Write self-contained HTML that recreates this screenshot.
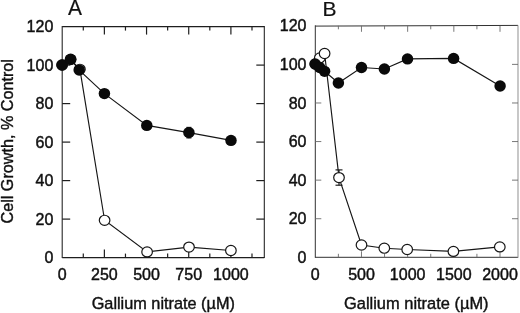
<!DOCTYPE html>
<html><head><meta charset="utf-8"><title>Cell growth vs gallium nitrate</title>
<style>
html,body{margin:0;padding:0;background:#fff;}
body{width:520px;height:313px;overflow:hidden;font-family:"Liberation Sans",sans-serif;}
svg{display:block;will-change:transform;}
text{font-family:"Liberation Sans",sans-serif;fill:#111;}
.t{font-size:16px;stroke:#111;stroke-width:0.45px;}
.lab{font-size:16.3px;stroke:#111;stroke-width:0.4px;}
.big{font-size:21px;stroke:#111;stroke-width:0.2px;}
</style></head><body>
<svg width="520" height="313" viewBox="0 0 520 313">
<rect width="520" height="313" fill="#fff"/>
<line x1="62.2" y1="26.1" x2="62.2" y2="258.1" stroke="#1e1e1e" stroke-width="1.05"/>
<line x1="62.2" y1="257.6" x2="264.3" y2="257.6" stroke="#1e1e1e" stroke-width="1.05"/>
<line x1="62.2" y1="26.6" x2="264.3" y2="26.6" stroke="#1e1e1e" stroke-width="1.05"/>
<line x1="264.3" y1="26.1" x2="264.3" y2="258.1" stroke="#1e1e1e" stroke-width="1.05"/>
<text x="53.3" y="263.2" text-anchor="end" class="t" textLength="8.9" lengthAdjust="spacingAndGlyphs">0</text>
<line x1="62.2" y1="219.1" x2="70.2" y2="219.1" stroke="#1e1e1e" stroke-width="1.2"/>
<line x1="256.3" y1="219.1" x2="264.3" y2="219.1" stroke="#1e1e1e" stroke-width="1.2"/>
<text x="53.3" y="224.7" text-anchor="end" class="t" textLength="17.8" lengthAdjust="spacingAndGlyphs">20</text>
<line x1="62.2" y1="180.6" x2="70.2" y2="180.6" stroke="#1e1e1e" stroke-width="1.2"/>
<line x1="256.3" y1="180.6" x2="264.3" y2="180.6" stroke="#1e1e1e" stroke-width="1.2"/>
<text x="53.3" y="186.2" text-anchor="end" class="t" textLength="17.8" lengthAdjust="spacingAndGlyphs">40</text>
<line x1="62.2" y1="142.1" x2="70.2" y2="142.1" stroke="#1e1e1e" stroke-width="1.2"/>
<line x1="256.3" y1="142.1" x2="264.3" y2="142.1" stroke="#1e1e1e" stroke-width="1.2"/>
<text x="53.3" y="147.7" text-anchor="end" class="t" textLength="17.8" lengthAdjust="spacingAndGlyphs">60</text>
<line x1="62.2" y1="103.6" x2="70.2" y2="103.6" stroke="#1e1e1e" stroke-width="1.2"/>
<line x1="256.3" y1="103.6" x2="264.3" y2="103.6" stroke="#1e1e1e" stroke-width="1.2"/>
<text x="53.3" y="109.2" text-anchor="end" class="t" textLength="17.8" lengthAdjust="spacingAndGlyphs">80</text>
<line x1="62.2" y1="65.1" x2="70.2" y2="65.1" stroke="#1e1e1e" stroke-width="1.2"/>
<line x1="256.3" y1="65.1" x2="264.3" y2="65.1" stroke="#1e1e1e" stroke-width="1.2"/>
<text x="53.3" y="70.7" text-anchor="end" class="t" textLength="26.7" lengthAdjust="spacingAndGlyphs">100</text>
<text x="53.3" y="32.2" text-anchor="end" class="t" textLength="26.7" lengthAdjust="spacingAndGlyphs">120</text>
<line x1="83.29" y1="257.6" x2="83.29" y2="253.6" stroke="#1e1e1e" stroke-width="1.2"/>
<line x1="83.29" y1="26.6" x2="83.29" y2="30.6" stroke="#1e1e1e" stroke-width="1.2"/>
<line x1="104.38" y1="257.6" x2="104.38" y2="249.6" stroke="#1e1e1e" stroke-width="1.2"/>
<line x1="104.38" y1="26.6" x2="104.38" y2="34.6" stroke="#1e1e1e" stroke-width="1.2"/>
<line x1="125.46" y1="257.6" x2="125.46" y2="253.6" stroke="#1e1e1e" stroke-width="1.2"/>
<line x1="125.46" y1="26.6" x2="125.46" y2="30.6" stroke="#1e1e1e" stroke-width="1.2"/>
<line x1="146.55" y1="257.6" x2="146.55" y2="249.6" stroke="#1e1e1e" stroke-width="1.2"/>
<line x1="146.55" y1="26.6" x2="146.55" y2="34.6" stroke="#1e1e1e" stroke-width="1.2"/>
<line x1="167.64" y1="257.6" x2="167.64" y2="253.6" stroke="#1e1e1e" stroke-width="1.2"/>
<line x1="167.64" y1="26.6" x2="167.64" y2="30.6" stroke="#1e1e1e" stroke-width="1.2"/>
<line x1="188.72" y1="257.6" x2="188.72" y2="249.6" stroke="#1e1e1e" stroke-width="1.2"/>
<line x1="188.72" y1="26.6" x2="188.72" y2="34.6" stroke="#1e1e1e" stroke-width="1.2"/>
<line x1="209.81" y1="257.6" x2="209.81" y2="253.6" stroke="#1e1e1e" stroke-width="1.2"/>
<line x1="209.81" y1="26.6" x2="209.81" y2="30.6" stroke="#1e1e1e" stroke-width="1.2"/>
<line x1="230.9" y1="257.6" x2="230.9" y2="249.6" stroke="#1e1e1e" stroke-width="1.2"/>
<line x1="230.9" y1="26.6" x2="230.9" y2="34.6" stroke="#1e1e1e" stroke-width="1.2"/>
<line x1="251.99" y1="257.6" x2="251.99" y2="253.6" stroke="#1e1e1e" stroke-width="1.2"/>
<line x1="251.99" y1="26.6" x2="251.99" y2="30.6" stroke="#1e1e1e" stroke-width="1.2"/>
<text x="62.2" y="280.0" text-anchor="middle" class="t" textLength="8.9" lengthAdjust="spacingAndGlyphs">0</text>
<text x="104.38" y="280.0" text-anchor="middle" class="t" textLength="26.7" lengthAdjust="spacingAndGlyphs">250</text>
<text x="146.55" y="280.0" text-anchor="middle" class="t" textLength="26.7" lengthAdjust="spacingAndGlyphs">500</text>
<text x="188.72" y="280.0" text-anchor="middle" class="t" textLength="26.7" lengthAdjust="spacingAndGlyphs">750</text>
<text x="230.9" y="280.0" text-anchor="middle" class="t" textLength="35.6" lengthAdjust="spacingAndGlyphs">1000</text>
<line x1="315.3" y1="25.3" x2="315.3" y2="257.8" stroke="#262626" stroke-width="0.95"/>
<line x1="315.3" y1="257.3" x2="518" y2="257.3" stroke="#262626" stroke-width="0.95"/>
<line x1="315.3" y1="26.1" x2="518" y2="25.4" stroke="#262626" stroke-width="0.95"/>
<line x1="518" y1="25.3" x2="518" y2="257.8" stroke="#8a8a8a" stroke-width="0.95"/>
<text x="306.5" y="262.9" text-anchor="end" class="t" textLength="8.9" lengthAdjust="spacingAndGlyphs">0</text>
<line x1="315.3" y1="218.72" x2="321.3" y2="218.72" stroke="#6a6a6a" stroke-width="0.9"/>
<line x1="512" y1="218.72" x2="518" y2="218.72" stroke="#6a6a6a" stroke-width="0.9"/>
<text x="306.5" y="224.32" text-anchor="end" class="t" textLength="17.8" lengthAdjust="spacingAndGlyphs">20</text>
<line x1="315.3" y1="180.13" x2="321.3" y2="180.13" stroke="#6a6a6a" stroke-width="0.9"/>
<line x1="512" y1="180.13" x2="518" y2="180.13" stroke="#6a6a6a" stroke-width="0.9"/>
<text x="306.5" y="185.73" text-anchor="end" class="t" textLength="17.8" lengthAdjust="spacingAndGlyphs">40</text>
<line x1="315.3" y1="141.55" x2="321.3" y2="141.55" stroke="#6a6a6a" stroke-width="0.9"/>
<line x1="512" y1="141.55" x2="518" y2="141.55" stroke="#6a6a6a" stroke-width="0.9"/>
<text x="306.5" y="147.15" text-anchor="end" class="t" textLength="17.8" lengthAdjust="spacingAndGlyphs">60</text>
<line x1="315.3" y1="102.97" x2="321.3" y2="102.97" stroke="#6a6a6a" stroke-width="0.9"/>
<line x1="512" y1="102.97" x2="518" y2="102.97" stroke="#6a6a6a" stroke-width="0.9"/>
<text x="306.5" y="108.57" text-anchor="end" class="t" textLength="17.8" lengthAdjust="spacingAndGlyphs">80</text>
<line x1="315.3" y1="64.38" x2="321.3" y2="64.38" stroke="#6a6a6a" stroke-width="0.9"/>
<line x1="512" y1="64.38" x2="518" y2="64.38" stroke="#6a6a6a" stroke-width="0.9"/>
<text x="306.5" y="69.98" text-anchor="end" class="t" textLength="26.7" lengthAdjust="spacingAndGlyphs">100</text>
<text x="306.5" y="31.4" text-anchor="end" class="t" textLength="26.7" lengthAdjust="spacingAndGlyphs">120</text>
<line x1="338.39" y1="257.3" x2="338.39" y2="253.8" stroke="#6a6a6a" stroke-width="0.9"/>
<line x1="338.39" y1="25.8" x2="338.39" y2="29.3" stroke="#6a6a6a" stroke-width="0.9"/>
<line x1="361.48" y1="257.3" x2="361.48" y2="251.3" stroke="#6a6a6a" stroke-width="0.9"/>
<line x1="361.48" y1="25.8" x2="361.48" y2="31.8" stroke="#6a6a6a" stroke-width="0.9"/>
<line x1="384.56" y1="257.3" x2="384.56" y2="253.8" stroke="#6a6a6a" stroke-width="0.9"/>
<line x1="384.56" y1="25.8" x2="384.56" y2="29.3" stroke="#6a6a6a" stroke-width="0.9"/>
<line x1="407.65" y1="257.3" x2="407.65" y2="251.3" stroke="#6a6a6a" stroke-width="0.9"/>
<line x1="407.65" y1="25.8" x2="407.65" y2="31.8" stroke="#6a6a6a" stroke-width="0.9"/>
<line x1="430.74" y1="257.3" x2="430.74" y2="253.8" stroke="#6a6a6a" stroke-width="0.9"/>
<line x1="430.74" y1="25.8" x2="430.74" y2="29.3" stroke="#6a6a6a" stroke-width="0.9"/>
<line x1="453.83" y1="257.3" x2="453.83" y2="251.3" stroke="#6a6a6a" stroke-width="0.9"/>
<line x1="453.83" y1="25.8" x2="453.83" y2="31.8" stroke="#6a6a6a" stroke-width="0.9"/>
<line x1="476.91" y1="257.3" x2="476.91" y2="253.8" stroke="#6a6a6a" stroke-width="0.9"/>
<line x1="476.91" y1="25.8" x2="476.91" y2="29.3" stroke="#6a6a6a" stroke-width="0.9"/>
<line x1="500" y1="257.3" x2="500" y2="251.3" stroke="#6a6a6a" stroke-width="0.9"/>
<line x1="500" y1="25.8" x2="500" y2="31.8" stroke="#6a6a6a" stroke-width="0.9"/>
<text x="315.3" y="280.0" text-anchor="middle" class="t" textLength="8.9" lengthAdjust="spacingAndGlyphs">0</text>
<text x="361.48" y="280.0" text-anchor="middle" class="t" textLength="26.7" lengthAdjust="spacingAndGlyphs">500</text>
<text x="407.65" y="280.0" text-anchor="middle" class="t" textLength="35.6" lengthAdjust="spacingAndGlyphs">1000</text>
<text x="453.83" y="280.0" text-anchor="middle" class="t" textLength="35.6" lengthAdjust="spacingAndGlyphs">1500</text>
<text x="500" y="280.0" text-anchor="middle" class="t" textLength="35.6" lengthAdjust="spacingAndGlyphs">2000</text>
<path d="M62.2 65 L70.6 59.6 L79.9 69.3 L104.6 220.3 L147.1 251.9 L189 247.1 L230.9 250.5" fill="none" stroke="#161616" stroke-width="1.15"/>
<ellipse cx="62.2" cy="65" rx="5.3" ry="5.05" fill="#fff" stroke="#161616" stroke-width="1.2"/>
<ellipse cx="70.6" cy="59.6" rx="5.3" ry="5.05" fill="#fff" stroke="#161616" stroke-width="1.2"/>
<ellipse cx="79.9" cy="69.3" rx="5.3" ry="5.05" fill="#fff" stroke="#161616" stroke-width="1.2"/>
<ellipse cx="104.6" cy="220.3" rx="5.3" ry="5.05" fill="#fff" stroke="#161616" stroke-width="1.2"/>
<ellipse cx="147.1" cy="251.9" rx="5.3" ry="5.05" fill="#fff" stroke="#161616" stroke-width="1.2"/>
<ellipse cx="189" cy="247.1" rx="5.3" ry="5.05" fill="#fff" stroke="#161616" stroke-width="1.2"/>
<ellipse cx="230.9" cy="250.5" rx="5.3" ry="5.05" fill="#fff" stroke="#161616" stroke-width="1.2"/>
<line x1="186.4" y1="127.4" x2="191.4" y2="127.4" stroke="#161616" stroke-width="1.15"/>
<line x1="186.4" y1="137.9" x2="191.4" y2="137.9" stroke="#161616" stroke-width="1.15"/>
<path d="M62 65 L70.6 59.2 L79.2 70.1 L104.4 93.6 L146.8 125.4 L188.9 132.6 L231 140.4" fill="none" stroke="#161616" stroke-width="1.15"/>
<ellipse cx="62" cy="65" rx="5.75" ry="5.65" fill="#0a0a0a"/>
<ellipse cx="70.6" cy="59.2" rx="5.75" ry="5.65" fill="#0a0a0a"/>
<ellipse cx="79.2" cy="70.1" rx="5.75" ry="5.65" fill="#0a0a0a"/>
<ellipse cx="104.4" cy="93.6" rx="5.75" ry="5.65" fill="#0a0a0a"/>
<ellipse cx="146.8" cy="125.4" rx="5.75" ry="5.65" fill="#0a0a0a"/>
<ellipse cx="188.9" cy="132.6" rx="5.75" ry="5.65" fill="#0a0a0a"/>
<ellipse cx="231" cy="140.4" rx="5.75" ry="5.65" fill="#0a0a0a"/>
<line x1="339" y1="169.9" x2="339" y2="185.2" stroke="#161616" stroke-width="1.15"/>
<line x1="335.5" y1="169.9" x2="342.5" y2="169.9" stroke="#161616" stroke-width="1.15"/>
<line x1="335.5" y1="185.2" x2="342.5" y2="185.2" stroke="#161616" stroke-width="1.15"/>
<path d="M315.3 64 L319.8 57.9 L324.6 53.5 L339 177.6 L361.5 245 L384.3 248.2 L407.2 249.5 L453.4 251.4 L499.8 246.9" fill="none" stroke="#161616" stroke-width="1.15"/>
<ellipse cx="315.3" cy="64" rx="5.3" ry="5.05" fill="#fff" stroke="#161616" stroke-width="1.2"/>
<ellipse cx="319.8" cy="57.9" rx="5.3" ry="5.05" fill="#fff" stroke="#161616" stroke-width="1.2"/>
<ellipse cx="324.6" cy="53.5" rx="5.3" ry="5.05" fill="#fff" stroke="#161616" stroke-width="1.2"/>
<ellipse cx="339" cy="177.6" rx="5.3" ry="5.05" fill="#fff" stroke="#161616" stroke-width="1.2"/>
<ellipse cx="361.5" cy="245" rx="5.3" ry="5.05" fill="#fff" stroke="#161616" stroke-width="1.2"/>
<ellipse cx="384.3" cy="248.2" rx="5.3" ry="5.05" fill="#fff" stroke="#161616" stroke-width="1.2"/>
<ellipse cx="407.2" cy="249.5" rx="5.3" ry="5.05" fill="#fff" stroke="#161616" stroke-width="1.2"/>
<ellipse cx="453.4" cy="251.4" rx="5.3" ry="5.05" fill="#fff" stroke="#161616" stroke-width="1.2"/>
<ellipse cx="499.8" cy="246.9" rx="5.3" ry="5.05" fill="#fff" stroke="#161616" stroke-width="1.2"/>
<path d="M315.2 64 L319.7 67.5 L324.6 71.3 L338.4 83 L361.5 67.5 L384.4 69 L407.5 58.9 L453.6 58.4 L500.1 86" fill="none" stroke="#161616" stroke-width="1.15"/>
<ellipse cx="315.2" cy="64" rx="5.75" ry="5.65" fill="#0a0a0a"/>
<ellipse cx="319.7" cy="67.5" rx="5.75" ry="5.65" fill="#0a0a0a"/>
<ellipse cx="324.6" cy="71.3" rx="5.75" ry="5.65" fill="#0a0a0a"/>
<ellipse cx="338.4" cy="83" rx="5.75" ry="5.65" fill="#0a0a0a"/>
<ellipse cx="361.5" cy="67.5" rx="5.75" ry="5.65" fill="#0a0a0a"/>
<ellipse cx="384.4" cy="69" rx="5.75" ry="5.65" fill="#0a0a0a"/>
<ellipse cx="407.5" cy="58.9" rx="5.75" ry="5.65" fill="#0a0a0a"/>
<ellipse cx="453.6" cy="58.4" rx="5.75" ry="5.65" fill="#0a0a0a"/>
<ellipse cx="500.1" cy="86" rx="5.75" ry="5.65" fill="#0a0a0a"/>
<text x="67.9" y="15" class="big" style="font-size:22px" textLength="14" lengthAdjust="spacingAndGlyphs">A</text>
<text x="322.4" y="16.3" class="big">B</text>
<text x="163.3" y="309.3" text-anchor="middle" class="lab" textLength="143.2" lengthAdjust="spacingAndGlyphs">Gallium nitrate (µM)</text>
<text x="416.3" y="308.7" text-anchor="middle" class="lab" textLength="144.6" lengthAdjust="spacingAndGlyphs">Gallium nitrate (µM)</text>
<text transform="translate(12.9 141.3) rotate(-90)" text-anchor="middle" class="lab" textLength="164.5" lengthAdjust="spacingAndGlyphs">Cell Growth, % Control</text>
</svg>
</body></html>
